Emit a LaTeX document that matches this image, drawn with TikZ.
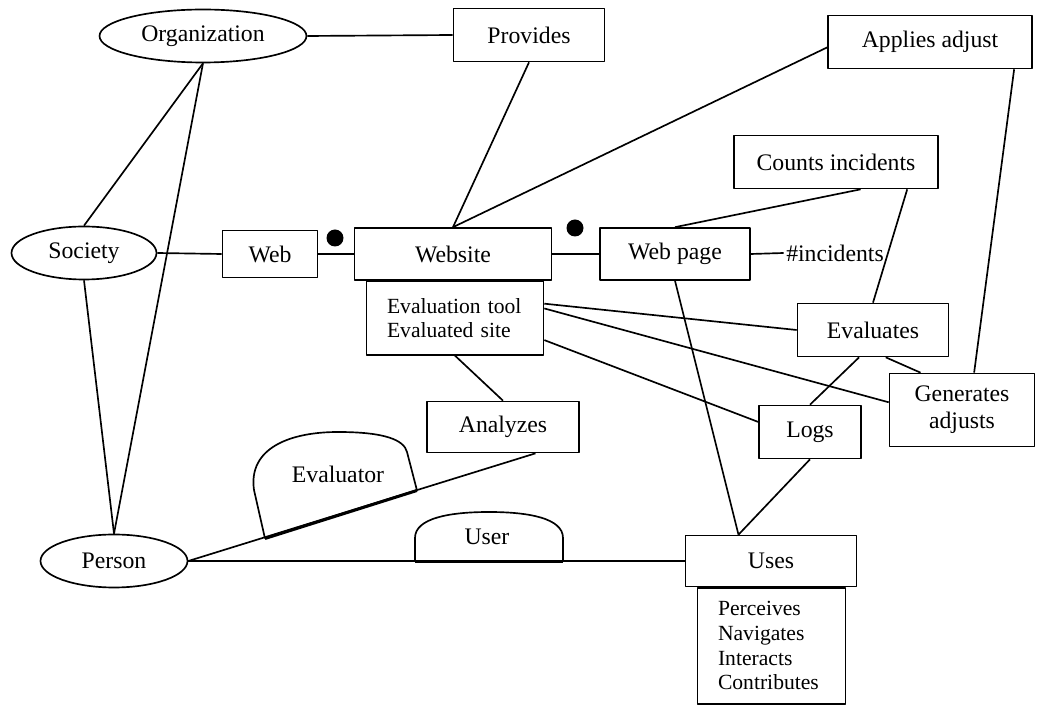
\documentclass[tikz,border=0pt]{standalone}
\usepackage{fontspec}
\setmainfont{Liberation Serif}
\usetikzlibrary{shapes.geometric}
\begin{document}
\begin{tikzpicture}[x=0.02cm,y=-0.02cm,line width=0.95pt,line join=round,
	font=\fontsize{13.5}{15.5}\selectfont,
	box/.style={draw,rectangle,inner sep=0pt,minimum height=1.06cm},
	ell/.style={draw,ellipse,inner sep=0pt,minimum height=1.06cm},
	list/.style={draw,rectangle,inner xsep=0.41cm,inner ysep=0pt,align=left,font=\fontsize{12.3}{13.6}\selectfont},
	dot/.style={circle,fill,inner sep=0pt,minimum size=0.34cm},
	base/.style={line width=1.7pt}]
	\useasboundingbox (0,0) rectangle (1039,705);
	% entities
	\node[ell,minimum width=4.14cm] (org) at (203,36) {Organization};
	\node[ell,minimum width=2.9cm] (soc) at (84,253) {Society};
	\node[ell,minimum width=2.94cm] (pers) at (114,561) {Person};
	% relations and classes
	\node[box,minimum width=3.02cm] (prov) at (529,35) {Provides};
	\node[box,minimum width=4.08cm] (appl) at (930,42) {Applies adjust};
	\node[box,minimum width=1.9cm,minimum height=0.94cm] (web) at (270,254) {Web};
	\node[box,minimum width=3.94cm,minimum height=1.04cm] (site) at (453,254) {Website};
	\node[box,minimum width=3cm,minimum height=1.04cm] (page) at (675,254) {Web page};
	\node[inner sep=1pt] (inc) at (835,253) {\#incidents};
	\node[box,minimum width=4.08cm] (counts) at (836,162) {Counts incidents};
	\node[box,minimum width=3.02cm] (evals) at (873,330) {Evaluates};
	\node[box,minimum width=2.9cm,minimum height=1.46cm,align=center] (gen) at (962,410) {Generates\\adjusts};
	\node[box,minimum width=2.04cm] (logs) at (810,432) {Logs};
	\node[box,minimum width=3.04cm,minimum height=1.02cm] (analyz) at (503,427) {Analyzes};
	\node[box,minimum width=3.42cm,minimum height=1.02cm] (uses) at (771,561) {Uses};
	\node[list,text width=2.72cm,minimum width=3.54cm,minimum height=1.48cm,anchor=north] (tool) at (455,280) {Evaluation tool\\Evaluated site};
	\node[list,text width=2.14cm,minimum width=2.94cm,minimum height=2.32cm,anchor=north,font=\fontsize{12.3}{14}\selectfont] (usebox) at (771.5,587) {Perceives\\Navigates\\Interacts\\Contributes};
	\node[dot] (dota) at (335,238) {};
	\node[dot] (dotb) at (575,228) {};
	% connectors
	\foreach \a/\b in {org.east/prov.west, org.south/soc.north, org.south/pers.north,
		soc.east/web.west, soc.south/pers.north, web.east/site.west,
		prov.south/site.north, appl.183/site.north, site.east/page.west,
		page.east/inc.west, counts.-48/page.north, counts.-21/evals.north,
		appl.-18/gen.72, tool.9/evals.west, tool.6/gen.174, tool.-14/logs.169,
		tool.south/analyz.north, evals.-117/logs.north, evals.-65/gen.138,
		page.south/uses.141, logs.south/uses.141, pers.east/uses.west,
		pers.east/analyz.-39}
		\draw (\a)--(\b);
	% roles
	\draw (265,538.5)--(254,490) .. controls (248,448) and (290,432) .. (338,432) .. controls (385,432) and (404,440) .. (407,452)--(417,490.5);
	\draw[base] (265,538.5)--(417,490.5);
	\node (evtor) at (338,474) {Evaluator};
	\draw (415,562)--(415,538) .. controls (415,518) and (450,512) .. (489,512) .. controls (528,512) and (563,518) .. (563,538)--(563,562);
	\draw[base] (415,562)--(563,562);
	\node (user) at (487,537) {User};
\end{tikzpicture}
\end{document}
